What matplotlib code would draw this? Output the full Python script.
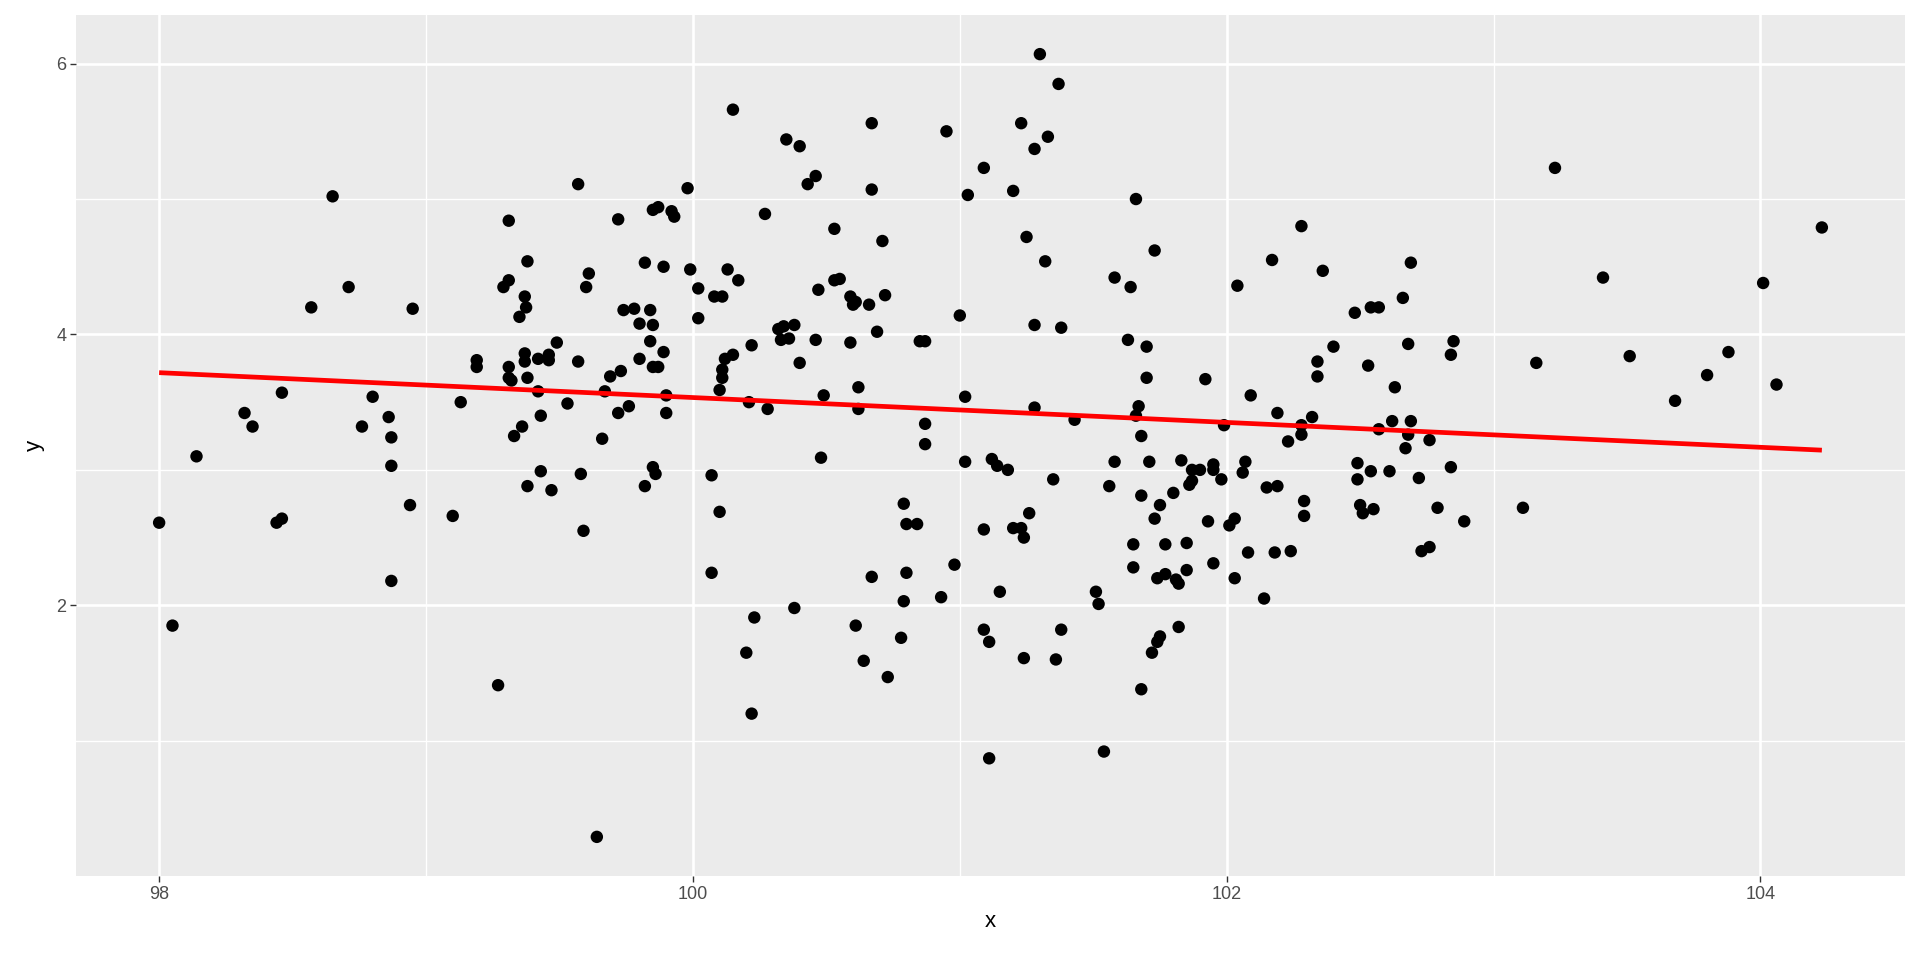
import numpy as np
import matplotlib
matplotlib.use("Agg")
import matplotlib.pyplot as plt
from matplotlib.ticker import FixedLocator

# ---- data ----
x_vals = [
    98.65, 99.31, 99.38, 99.31, 99.29, 99.37, 98.71,
    98.57, 98.95, 99.375, 99.35, 99.37, 99.37, 99.19, 99.19, 99.31, 99.31, 99.32, 99.38,
    98.46, 98.80, 99.13, 98.32, 98.35, 98.76, 98.86, 98.87, 98.14, 98.87, 99.38, 98.00,
    98.44, 98.46, 98.94, 99.10, 99.36, 99.33, 98.87, 98.05, 99.27,
    100.15, 100.35, 100.40, 100.67, 100.95, 100.46, 100.43, 100.67, 101.09, 101.03,
    99.57, 99.98, 99.72, 99.85, 99.87, 99.92, 99.93, 100.27, 100.53, 100.71, 99.61,
    99.60, 99.82, 99.89, 99.99, 100.02, 100.08, 100.11, 100.13, 100.17, 100.47, 100.53,
    100.55, 100.59, 100.61, 100.66, 100.72, 100.60,
    99.74, 99.78, 99.84, 99.80, 99.85, 99.84, 99.89, 99.49, 99.42, 99.46, 99.46, 99.57,
    99.80, 99.85, 99.87, 99.69, 99.73, 99.42, 99.67, 99.90, 99.53, 99.76, 99.72, 99.90,
    99.43, 99.66, 99.43, 99.58, 99.85, 99.86, 99.82, 99.47, 99.59,
    100.02, 101.00, 100.32, 100.34, 100.38, 100.33, 100.36, 100.46, 100.59, 100.69,
    100.85, 100.87, 100.22, 100.12, 100.15, 100.40, 100.11, 100.11, 100.10, 100.49,
    100.62, 100.21, 100.28, 100.62, 101.02, 100.87, 100.87, 100.48, 101.02, 100.07,
    100.10, 100.79, 100.80, 100.84, 101.09, 100.07, 100.67, 100.80, 100.98,
    100.23, 100.38, 100.20, 100.61, 100.79, 100.93, 100.78, 100.64, 100.73, 100.22, 99.64,
    101.30, 101.37, 101.23, 101.33, 101.28, 101.20, 101.66, 101.25, 101.32, 101.73,
    101.58, 101.64, 102.28, 102.17, 102.36, 102.04, 102.69, 102.66,
    101.28, 101.38, 101.63, 101.70, 101.70, 101.92, 101.28, 101.67, 101.66, 101.43,
    101.99, 101.68, 101.12, 101.14, 101.18, 101.35, 101.58, 101.71, 101.83, 101.87,
    101.90, 101.95, 101.95, 101.98, 101.87, 101.86, 101.56, 101.68, 101.75, 101.80,
    101.73, 101.26, 101.20, 101.23, 101.24, 101.65, 101.77, 101.85, 101.65, 101.95,
    101.74, 101.77, 101.81, 101.82, 101.85, 102.03, 101.93, 102.01, 102.03,
    102.48, 102.54, 102.57, 102.40, 102.68, 102.34, 102.34, 102.53, 102.63, 102.09,
    102.19, 102.32, 102.28, 102.28, 102.23, 102.62, 102.69, 102.57, 102.68, 102.76,
    102.67, 102.07, 102.06, 102.15, 102.19, 102.49, 102.54, 102.61, 102.49, 102.72,
    102.29, 102.29, 102.50, 102.51, 102.55, 102.79, 102.08, 102.18, 102.24, 102.73,
    102.76,
    101.15, 101.51, 101.52, 102.14, 101.09, 101.11, 101.38, 101.24, 101.36, 101.82,
    101.75, 101.74, 101.72, 101.68, 101.11, 101.54,
    103.23, 103.41, 104.01, 104.23,
    102.85, 102.84, 103.16, 103.51, 103.68, 103.80, 103.88, 104.06, 102.84, 102.89, 103.11,
]
y_vals = [
    5.02, 4.84, 4.54, 4.40, 4.35, 4.28, 4.35,
    4.20, 4.19, 4.20, 4.13, 3.86, 3.80, 3.81, 3.76, 3.76, 3.68, 3.66, 3.68,
    3.57, 3.54, 3.50, 3.42, 3.32, 3.32, 3.39, 3.24, 3.10, 3.03, 2.88, 2.61,
    2.61, 2.64, 2.74, 2.66, 3.32, 3.25, 2.18, 1.85, 1.41,
    5.66, 5.44, 5.39, 5.56, 5.50, 5.17, 5.11, 5.07, 5.23, 5.03,
    5.11, 5.08, 4.85, 4.92, 4.94, 4.91, 4.87, 4.89, 4.78, 4.69, 4.45,
    4.35, 4.53, 4.50, 4.48, 4.34, 4.28, 4.28, 4.48, 4.40, 4.33, 4.40,
    4.41, 4.28, 4.24, 4.22, 4.29, 4.22,
    4.18, 4.19, 4.18, 4.08, 4.07, 3.95, 3.87, 3.94, 3.82, 3.85, 3.81, 3.80,
    3.82, 3.76, 3.76, 3.69, 3.73, 3.58, 3.58, 3.55, 3.49, 3.47, 3.42, 3.42,
    3.40, 3.23, 2.99, 2.97, 3.02, 2.97, 2.88, 2.85, 2.55,
    4.12, 4.14, 4.04, 4.06, 4.07, 3.96, 3.97, 3.96, 3.94, 4.02,
    3.95, 3.95, 3.92, 3.82, 3.85, 3.79, 3.74, 3.68, 3.59, 3.55,
    3.61, 3.50, 3.45, 3.45, 3.54, 3.34, 3.19, 3.09, 3.06, 2.96,
    2.69, 2.75, 2.60, 2.60, 2.56, 2.24, 2.21, 2.24, 2.30,
    1.91, 1.98, 1.65, 1.85, 2.03, 2.06, 1.76, 1.59, 1.47, 1.20, 0.29,
    6.07, 5.85, 5.56, 5.46, 5.37, 5.06, 5.00, 4.72, 4.54, 4.62,
    4.42, 4.35, 4.80, 4.55, 4.47, 4.36, 4.53, 4.27,
    4.07, 4.05, 3.96, 3.91, 3.68, 3.67, 3.46, 3.47, 3.40, 3.37,
    3.33, 3.25, 3.08, 3.03, 3.00, 2.93, 3.06, 3.06, 3.07, 3.00,
    3.00, 3.04, 3.00, 2.93, 2.92, 2.89, 2.88, 2.81, 2.74, 2.83,
    2.64, 2.68, 2.57, 2.57, 2.50, 2.45, 2.45, 2.46, 2.28, 2.31,
    2.20, 2.23, 2.19, 2.16, 2.26, 2.20, 2.62, 2.59, 2.64,
    4.16, 4.20, 4.20, 3.91, 3.93, 3.80, 3.69, 3.77, 3.61, 3.55,
    3.42, 3.39, 3.33, 3.26, 3.21, 3.36, 3.36, 3.30, 3.26, 3.22,
    3.16, 3.06, 2.98, 2.87, 2.88, 3.05, 2.99, 2.99, 2.93, 2.94,
    2.77, 2.66, 2.74, 2.68, 2.71, 2.72, 2.39, 2.39, 2.40, 2.40,
    2.43,
    2.10, 2.10, 2.01, 2.05, 1.82, 1.73, 1.82, 1.61, 1.60, 1.84,
    1.77, 1.73, 1.65, 1.38, 0.87, 0.92,
    5.23, 4.42, 4.38, 4.79,
    3.95, 3.85, 3.79, 3.84, 3.51, 3.70, 3.87, 3.63, 3.02, 2.62, 2.72,
]
x_ticks = [98, 100, 102, 104]
y_ticks = [2, 4, 6]
x_label = "x"
y_label = "y"

x = np.array(x_vals)
y = np.array(y_vals)

# ---- figure ----
DPI = 100
fig = plt.figure(figsize=(19.2, 9.6), dpi=DPI)
ax = fig.add_axes([76 / 1920, 1 - 876 / 960, (1905 - 76) / 1920, (876 - 15) / 960])

ax.set_facecolor("#EBEBEB")
for s in ax.spines.values():
    s.set_visible(False)

# ggplot-style 5% expansion
xr = x.max() - x.min()
yr = y.max() - y.min()
ax.set_xlim(x.min() - 0.05 * xr, x.max() + 0.05 * xr)
ax.set_ylim(y.min() - 0.05 * yr, y.max() + 0.05 * yr)

ax.xaxis.set_major_locator(FixedLocator(x_ticks))
ax.yaxis.set_major_locator(FixedLocator(y_ticks))
minor_x = [(a + b) / 2 for a, b in zip(x_ticks[:-1], x_ticks[1:])]
minor_y = [y_ticks[0] - 1] + [(a + b) / 2 for a, b in zip(y_ticks[:-1], y_ticks[1:])]
ax.xaxis.set_minor_locator(FixedLocator(minor_x))
ax.yaxis.set_minor_locator(FixedLocator(minor_y))
ax.set_xticklabels([str(t) for t in x_ticks])
ax.set_yticklabels([str(t) for t in y_ticks])

ax.grid(which="major", color="white", linewidth=1.9)
ax.grid(which="minor", color="white", linewidth=0.95)
ax.set_axisbelow(True)

ax.tick_params(which="major", length=4.0, width=1.0, color="#333333",
               labelsize=13, labelcolor="#4D4D4D", pad=3)
ax.tick_params(which="minor", length=0)
for lab in ax.get_xticklabels() + ax.get_yticklabels():
    lab.set_fontfamily("Liberation Sans")

ax.scatter(x, y, s=80, color="black", edgecolors="none", zorder=3)

# linear regression line (geom_smooth(method = "lm", se = FALSE))
slope, intercept = np.polyfit(x, y, 1)
xs = np.array([x.min(), x.max()])
ax.plot(xs, intercept + slope * xs, color="red", linewidth=3.4, zorder=4,
        solid_capstyle="butt")

ax.set_xlabel(x_label, fontsize=16, family="Liberation Sans", color="black", labelpad=6)
ax.set_ylabel(y_label, fontsize=16, family="Liberation Sans", color="black", labelpad=8)

fig.savefig("out.png", dpi=DPI, facecolor="white")
